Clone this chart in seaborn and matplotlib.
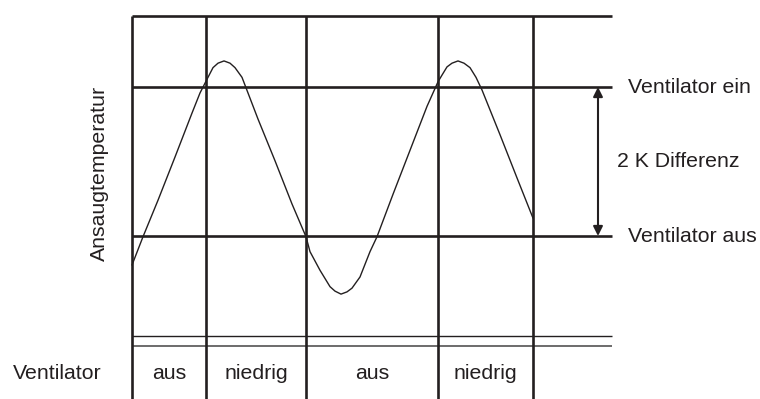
import numpy as np
import pandas as pd
from matplotlib import pyplot as plt
import seaborn as sns

# Zeit (willkuerliche Einheit) und Ansaugtemperatur relativ zu "Ventilator aus" (K)
zeit = [0.0, 1.1, 2.6, 4.3, 6.0, 6.8, 7.6, 8.1, 8.6, 9.2, 9.8, 10.3, 11.0, 11.6,
        12.6, 14.3, 16.0, 17.4, 17.8, 18.8, 19.8, 20.3, 20.9, 21.5, 22.0, 22.8,
        23.8, 24.5, 26.1, 27.8, 29.5, 30.6, 31.0, 31.5, 32.0, 32.6, 33.2, 33.8,
        34.4, 35.0, 36.8, 38.5, 40.1]
temperatur = [-0.39, -0.01, 0.48, 1.06, 1.65, 1.92, 2.13, 2.26, 2.32, 2.35, 2.32,
              2.26, 2.13, 1.92, 1.57, 1.01, 0.43, -0.01, -0.21, -0.46, -0.68,
              -0.74, -0.78, -0.75, -0.70, -0.55, -0.21, -0.01, 0.56, 1.15, 1.74,
              2.07, 2.16, 2.27, 2.32, 2.35, 2.32, 2.26, 2.13, 1.96, 1.36, 0.78, 0.24]

# Schaltpunkte und Ventilatorstufen
grenzen = [0.0, 7.4, 17.4, 30.6, 40.1]
stufen = ["aus", "niedrig", "aus", "niedrig"]
t_ein = 2.0
t_aus = 0.0
t_oben = 2.95
x_ende = 48.0

sns.set_style("white")
plt.rcParams['font.family'] = ['Liberation Sans', 'DejaVu Sans']
ink = '#231f20'
fs = 15.3

df = pd.DataFrame({'Zeit': zeit, 'Temperatur': temperatur})

fig = plt.figure(figsize=(7.6, 3.99), dpi=100)
ax = fig.add_axes([0, 0, 1, 1])

# Raster
ax.hlines([t_oben, t_ein, t_aus], grenzen[0], x_ende, color=ink, lw=1.9)
ax.hlines(-1.342, grenzen[0], x_ende, color=ink, lw=1.0)
ax.hlines(-1.477, grenzen[0], x_ende, color='#6d6b6b', lw=1.4)
ax.vlines(grenzen, -2.188, t_oben, color=ink, lw=1.9)

# Temperaturverlauf
sns.lineplot(data=df, x='Zeit', y='Temperatur', ax=ax, color=ink, lw=1.0,
             sort=False, estimator=None)
ax.set_xlim(-13.2, 62.8)
ax.set_ylim(-2.188, 3.168)
ax.axis('off')

# Hysterese-Pfeil
ax.annotate('', xy=(46.6, t_ein), xytext=(46.6, t_aus),
            arrowprops=dict(arrowstyle='<|-|>', color=ink, lw=1.5,
                            mutation_scale=14, shrinkA=0, shrinkB=0))
ax.text(49.6, t_ein, "Ventilator ein", fontsize=fs, color=ink, va='center')
ax.text(49.6, t_aus, "Ventilator aus", fontsize=fs, color=ink, va='center')
ax.text(48.5, (t_ein + t_aus) / 2, "2 K Differenz", fontsize=fs, color=ink, va='center')

ax.text(-3.3, 0.84, "Ansaugtemperatur", fontsize=fs, color=ink,
        rotation=90, ha='center', va='center')

# Ventilatorstufen
ax.text(-11.9, -1.852, "Ventilator", fontsize=fs, color=ink, va='center')
for i, s in enumerate(stufen):
    ax.text((grenzen[i] + grenzen[i + 1]) / 2, -1.852, s, fontsize=fs,
            color=ink, ha='center', va='center')

plt.savefig("out.png", dpi=100)
